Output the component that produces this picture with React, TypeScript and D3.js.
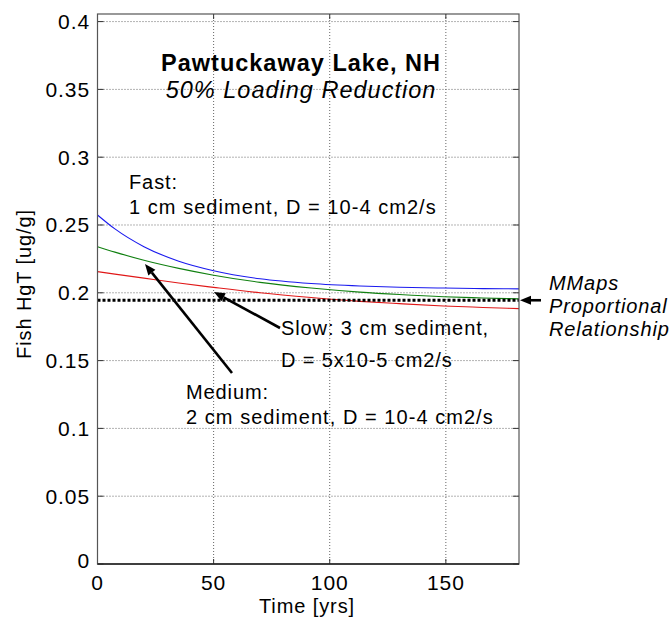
import React from "react";
import * as d3 from "d3";

const years = [0, 7.5, 20, 35, 50, 70, 92, 113, 130, 149, 166, 181.5];
const fastValues = [0.2574, 0.2471, 0.234, 0.2233, 0.2163, 0.2103, 0.2068, 0.2050, 0.2041, 0.2035, 0.2031, 0.2029];
const mediumValues = [0.234, 0.23, 0.224, 0.218, 0.213, 0.2077, 0.2035, 0.2005, 0.1987, 0.1971, 0.1962, 0.1955];
const slowValues = [0.2156, 0.2138, 0.2108, 0.2072, 0.204, 0.2, 0.1965, 0.1937, 0.192, 0.1903, 0.1892, 0.1883];
const mmapsValue = 0.1945;
const xTicks = [0, 50, 100, 150];
const yTicks = [0, 0.05, 0.1, 0.15, 0.2, 0.25, 0.3, 0.35, 0.4];

const W = 672;
const H = 622;
const L = 97.5, R = 519, T = 14, B = 564;
const FONT = "'Liberation Sans', Arial, Helvetica, sans-serif";

export default function App() {
  const x = d3.scaleLinear().domain([0, 181.5]).range([L, R]);
  const y = d3.scaleLinear().domain([0, 0.4056]).range([B, T]);
  const line = d3
    .line<number>()
    .x((_, i) => x(years[i]))
    .y((d) => y(d))
    .curve(d3.curveMonotoneX);

  const series = [
    { v: fastValues, c: "#1a1aee" },
    { v: mediumValues, c: "#108010" },
    { v: slowValues, c: "#e01818" },
  ];

  const arrow = (x1: number, y1: number, x2: number, y2: number, key: string) => {
    const ang = Math.atan2(y2 - y1, x2 - x1);
    const len = 11, wid = 4.5;
    const bx = x2 - len * Math.cos(ang), by = y2 - len * Math.sin(ang);
    const px = -Math.sin(ang) * wid, py = Math.cos(ang) * wid;
    return (
      <g key={key}>
        <line x1={x1} y1={y1} x2={bx} y2={by} stroke="#000" strokeWidth={2.6} />
        <polygon points={`${x2},${y2} ${bx + px},${by + py} ${bx - px},${by - py}`} fill="#000" />
      </g>
    );
  };

  const txt = { fontFamily: FONT, fontSize: 20, letterSpacing: 0.9, fill: "#000" } as const;

  return (
    <svg width={W} height={H} style={{ position: "absolute", left: 0, top: 0, background: "#fff" }}>
      <rect x={0} y={0} width={W} height={H} fill="#fff" />
      {/* grid */}
      {xTicks.filter((t) => t > 0).map((t) => (
        <line key={"gx" + t} x1={x(t)} x2={x(t)} y1={T} y2={B} stroke="#666" strokeWidth={1} strokeDasharray="1,2" />
      ))}
      {yTicks.filter((t) => t > 0).map((t) => (
        <line key={"gy" + t} x1={L} x2={R} y1={y(t)} y2={y(t)} stroke="#666" strokeWidth={1} strokeDasharray="1,2" />
      ))}
      {/* ticks */}
      {xTicks.map((t) => (
        <g key={"tx" + t}>
          <line x1={x(t)} x2={x(t)} y1={B} y2={B - 5} stroke="#333" />
          <line x1={x(t)} x2={x(t)} y1={T} y2={T + 5} stroke="#333" />
          <text x={x(t)} y={590} textAnchor="middle" {...txt} fontSize={21}>{t}</text>
        </g>
      ))}
      {yTicks.map((t) => (
        <g key={"ty" + t}>
          <line x1={L} x2={L + 6} y1={y(t)} y2={y(t)} stroke="#333" />
          <line x1={R} x2={R - 6} y1={y(t)} y2={y(t)} stroke="#333" />
          <text x={90} y={y(t) + (t === 0 ? 4 : 7.5)} textAnchor="end" {...txt} fontSize={21}>{t}</text>
        </g>
      ))}
      {/* curves */}
      {series.map((s, i) => (
        <path key={"s" + i} d={line(s.v) || ""} fill="none" stroke={s.c} strokeWidth={1.1} />
      ))}
      {/* MMaps reference */}
      <line x1={L} x2={R} y1={y(mmapsValue)} y2={y(mmapsValue)} stroke="#000" strokeWidth={3.2} strokeDasharray="3,2" />
      {/* box */}
      <rect x={L} y={T} width={R - L} height={B - T} fill="none" stroke="#555" strokeWidth={1.2} />
      <line x1={L} x2={R} y1={B} y2={B} stroke="#222" strokeWidth={1.4} />
      {/* title */}
      <text x={301} y={71} textAnchor="middle" {...txt} fontSize={23.5} fontWeight="bold" letterSpacing={1}>Pawtuckaway Lake, NH</text>
      <text x={301} y={98} textAnchor="middle" {...txt} fontSize={23.5} fontStyle="italic" letterSpacing={1}>50% Loading Reduction</text>
      {/* annotations */}
      <text x={129} y={189} {...txt}>Fast:</text>
      <text x={129} y={213.5} {...txt} letterSpacing={1.05}>1 cm sediment, D = 10-4 cm2/s</text>
      <text x={281} y={335} {...txt}>Slow: 3 cm sediment,</text>
      <text x={281} y={366.5} {...txt}>D = 5x10-5 cm2/s</text>
      <text x={186} y={398.5} {...txt}>Medium:</text>
      <text x={186} y={423.5} {...txt} letterSpacing={1.05}>2 cm sediment, D = 10-4 cm2/s</text>
      {arrow(232, 373, 145, 264, "a1")}
      {arrow(280, 328, 214, 292, "a2")}
      {arrow(541, y(mmapsValue), 520, y(mmapsValue), "a3")}
      <text x={549} y={290} {...txt} fontStyle="italic">MMaps</text>
      <text x={549} y={313} {...txt} fontStyle="italic">Proportional</text>
      <text x={549} y={336} {...txt} fontStyle="italic">Relationship</text>
      {/* axis labels */}
      <text x={307} y={613} textAnchor="middle" {...txt}>Time [yrs]</text>
      <text transform={`translate(31,284) rotate(-90)`} textAnchor="middle" {...txt}>Fish HgT [ug/g]</text>
    </svg>
  );
}
